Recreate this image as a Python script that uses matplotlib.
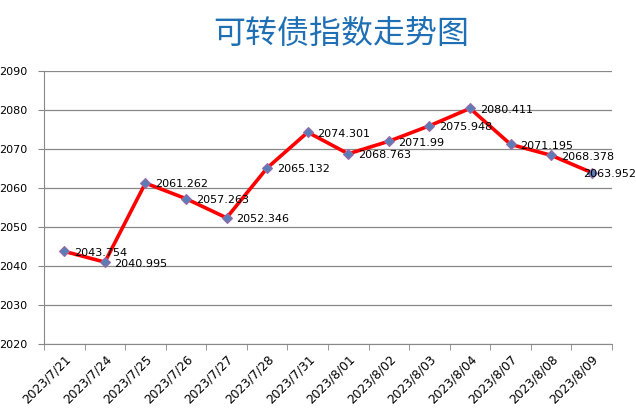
import numpy as np
import matplotlib.pyplot as plt
import matplotlib.transforms as mtransforms

plt.rcParams['font.family'] = ['Noto Sans CJK SC', 'DejaVu Sans']

# 数据
dates = ['2023/7/21', '2023/7/24', '2023/7/25', '2023/7/26', '2023/7/27',
         '2023/7/28', '2023/7/31', '2023/8/01', '2023/8/02', '2023/8/03',
         '2023/8/04', '2023/8/07', '2023/8/08', '2023/8/09']
values = [2043.754, 2040.995, 2061.262, 2057.263, 2052.346, 2065.132, 2074.301,
          2068.763, 2071.99, 2075.948, 2080.411, 2071.195, 2068.378, 2063.952]
value_labels = ['2043.754', '2040.995', '2061.262', '2057.263', '2052.346',
                '2065.132', '2074.301', '2068.763', '2071.99', '2075.948',
                '2080.411', '2071.195', '2068.378', '2063.952']

fig = plt.figure(figsize=(6.36, 4.17), dpi=100)
ax = fig.add_axes([44 / 636, 1 - 344 / 417, (612 - 44) / 636, (344 - 71) / 417])

x = np.arange(len(dates))
ax.plot(x, values, color='#FF0000', linewidth=2.6, zorder=3)
ax.plot(x, values, linestyle='none', marker='D', markersize=5.5,
        markerfacecolor='#5B7DB5', markeredgecolor='#9A6AA8', markeredgewidth=0.8, zorder=4)

# 数据标签放在点的右侧，最后一个向左挪一点以免出界
for i, (xi, v, s) in enumerate(zip(x, values, value_labels)):
    dx = -6.5 if i == len(values) - 1 else 7
    ax.annotate(s, (xi, v), xytext=(dx, -1), textcoords='offset points',
                ha='left', va='center', fontsize=8, family='DejaVu Sans', zorder=5)

ax.set_xlim(-0.5, len(dates) - 0.5)
ax.set_ylim(2020, 2090)
ax.set_yticks(np.arange(2020, 2091, 10))
ax.set_yticklabels([str(v) for v in range(2020, 2091, 10)], fontsize=8, family='DejaVu Sans')
ax.tick_params(axis='y', length=4, color='#888888', pad=8)

ax.set_xticks(x)
ax.set_xticklabels(dates, rotation=45, ha='right', rotation_mode='anchor', fontsize=8.8,
                   family='DejaVu Sans')
shift = mtransforms.ScaledTranslation(-6 / 100, -6 / 100, fig.dpi_scale_trans)
for lbl in ax.get_xticklabels():
    lbl.set_transform(lbl.get_transform() + shift)
ax.set_xticks(np.arange(-0.5, len(dates), 1), minor=True)
ax.tick_params(axis='x', which='major', length=0, pad=6)
ax.tick_params(axis='x', which='minor', length=4, color='#888888')

ax.grid(axis='y', color='#888888', linewidth=0.9)
ax.set_axisbelow(True)
for side in ['top', 'right']:
    ax.spines[side].set_visible(False)
for side in ['left', 'bottom']:
    ax.spines[side].set_color('#888888')

fig.text(341 / 636, 1 - 35 / 417, '可转债指数走势图', ha='center', va='center',
         fontsize=23, color='#1F6FB5')

fig.savefig('out.png', dpi=100)
